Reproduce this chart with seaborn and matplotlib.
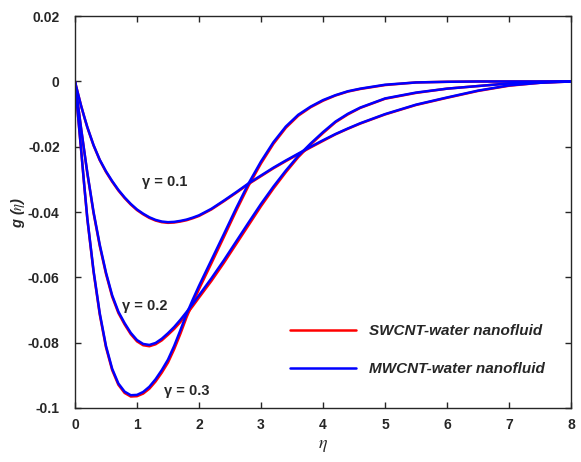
import numpy as np
import pandas as pd
import matplotlib
matplotlib.use("Agg")
import matplotlib.pyplot as plt
import seaborn as sns

# eta grid
eta = [0, 0.05, 0.1, 0.15, 0.2,
       0.3, 0.4, 0.5, 0.6, 0.7, 0.8, 0.9, 1.0, 1.1, 1.2, 1.3, 1.4, 1.5, 1.6, 1.7,
       1.8, 1.9, 2.0,
       2.2, 2.4, 2.6, 2.8, 3.0, 3.2, 3.4, 3.6, 3.8, 4.0, 4.2, 4.4, 4.6,
       5.0, 5.5, 6.0, 6.5, 7.0, 7.5, 8.0]

# MWCNT-water (blue)
g_mw_01 = [0, -0.0038, -0.0075, -0.0108, -0.0140,
           -0.0195, -0.0240, -0.0275, -0.0305, -0.0332, -0.0355, -0.0375, -0.0392,
           -0.0405, -0.0416, -0.0424, -0.0429, -0.0431, -0.0430, -0.0427, -0.0423,
           -0.0417, -0.0410,
           -0.0390, -0.0365, -0.0339, -0.0312, -0.0288, -0.0264, -0.0242, -0.0221,
           -0.0200, -0.0180, -0.0161, -0.0144, -0.0128,
           -0.0100, -0.0071, -0.0049, -0.0028, -0.0012, -0.0004, 0]
g_mw_02 = [0, -0.0073, -0.0145, -0.0213, -0.0280,
           -0.0400, -0.0500, -0.0585, -0.0655, -0.0705, -0.0740, -0.0770, -0.0792,
           -0.0804, -0.0807, -0.0801, -0.0788, -0.0771, -0.0752, -0.0730, -0.0706,
           -0.0681, -0.0655,
           -0.0603, -0.0548, -0.0490, -0.0432, -0.0375, -0.0322, -0.0273, -0.0228,
           -0.0190, -0.0155, -0.0123, -0.0099, -0.0080,
           -0.0052, -0.0034, -0.0022, -0.0014, -0.0006, -0.0002, 0]
g_mw_03 = [0, -0.0105, -0.0210, -0.0318, -0.0420,
           -0.0580, -0.0710, -0.0810, -0.0880, -0.0925, -0.0950, -0.0961, -0.0960,
           -0.0951, -0.0935, -0.0912, -0.0884, -0.0852, -0.0810, -0.0762, -0.0712,
           -0.0668, -0.0626,
           -0.0547, -0.0468, -0.0388, -0.0312, -0.0245, -0.0186, -0.0138, -0.0102,
           -0.0077, -0.0057, -0.0042, -0.0030, -0.0022,
           -0.0010, -0.0003, -0.0001, 0, 0, 0, 0]

# SWCNT-water (red), almost on top of the blue curves
g_sw_01 = [0, -0.0038, -0.0075, -0.0109, -0.0141,
           -0.0196, -0.0241, -0.0277, -0.0307, -0.0334, -0.0357, -0.0377, -0.0394,
           -0.0407, -0.0418, -0.0426, -0.0431, -0.0433, -0.0432, -0.0429, -0.0425,
           -0.0419, -0.0412,
           -0.0392, -0.0367, -0.0341, -0.0314, -0.0290, -0.0266, -0.0244, -0.0223,
           -0.0202, -0.0182, -0.0162, -0.0145, -0.0129,
           -0.0101, -0.0072, -0.0050, -0.0029, -0.0013, -0.0004, 0]
g_sw_02 = [0, -0.0073, -0.0146, -0.0214, -0.0282,
           -0.0403, -0.0504, -0.0589, -0.0659, -0.0709, -0.0744, -0.0774, -0.0796,
           -0.0808, -0.0811, -0.0805, -0.0793, -0.0776, -0.0758, -0.0737, -0.0713,
           -0.0688, -0.0662,
           -0.0611, -0.0556, -0.0498, -0.0440, -0.0382, -0.0328, -0.0278, -0.0232,
           -0.0193, -0.0158, -0.0125, -0.0101, -0.0081,
           -0.0053, -0.0035, -0.0022, -0.0014, -0.0006, -0.0002, 0]
g_sw_03 = [0, -0.0106, -0.0211, -0.0319, -0.0422,
           -0.0583, -0.0714, -0.0814, -0.0884, -0.0929, -0.0954, -0.0965, -0.0964,
           -0.0956, -0.0941, -0.0919, -0.0892, -0.0861, -0.0820, -0.0773, -0.0722,
           -0.0678, -0.0636,
           -0.0557, -0.0477, -0.0396, -0.0319, -0.0251, -0.0191, -0.0142, -0.0105,
           -0.0079, -0.0059, -0.0043, -0.0031, -0.0023,
           -0.0011, -0.0003, -0.0001, 0, 0, 0, 0]

gamma_labels = ["\u03b3 = 0.1", "\u03b3 = 0.2", "\u03b3 = 0.3"]
label_pos = [(1.45, -0.0309), (1.13, -0.0688), (1.81, -0.0948)]

sns.set_style("ticks")
plt.rcParams["font.family"] = ["Liberation Sans", "DejaVu Sans"]
plt.rcParams["mathtext.fontset"] = "stix"

fig = plt.figure(figsize=(5.81, 4.62), dpi=100)
ax = fig.add_axes([0.129, 0.117, 0.854, 0.848])

rows = []
for name, sets in [("SWCNT-water nanofluid", [g_sw_01, g_sw_02, g_sw_03]),
                   ("MWCNT-water nanofluid", [g_mw_01, g_mw_02, g_mw_03])]:
    for k, vals in enumerate(sets):
        for x, y in zip(eta, vals):
            rows.append({"eta": x, "g": y, "fluid": name, "case": k})
df = pd.DataFrame(rows)

sns.lineplot(data=df, x="eta", y="g", hue="fluid", units="case", estimator=None,
             palette={"SWCNT-water nanofluid": "#ff0000", "MWCNT-water nanofluid": "#0000ff"},
             linewidth=1.8, ax=ax, sort=False)

for txt, (x, y) in zip(gamma_labels, label_pos):
    ax.text(x, y, txt, ha="center", va="center", fontsize=10.5, fontweight="bold")

ax.set_xlim(0, 8)
ax.set_ylim(-0.1, 0.02)
ax.set_xticks(range(0, 9))
ax.set_yticks([0.02, 0, -0.02, -0.04, -0.06, -0.08, -0.1])
ax.set_yticklabels(["0.02", "0", "-0.02", "-0.04", "-0.06", "-0.08", "-0.1"])
ax.tick_params(direction="in", top=True, right=True, length=4, width=1,
               labelsize=10, colors="#262626")
ax.tick_params(axis="y", pad=11)
ax.tick_params(axis="x", pad=7)
for lab in ax.get_xticklabels() + ax.get_yticklabels():
    lab.set_fontweight("bold")
for sp in ax.spines.values():
    sp.set_visible(True)
    sp.set_linewidth(1.0)
    sp.set_color("#262626")

ax.set_xlabel("$\\eta$", fontsize=13, labelpad=4)
ax.set_ylabel("g ($\\eta$)", fontsize=10.5, fontweight="bold", fontstyle="italic", labelpad=1)

leg = ax.legend(loc="center left", bbox_to_anchor=(0.42, 0.148), frameon=False,
                handlelength=4.7, labelspacing=1.7, handletextpad=1.0, borderpad=0)
for t in leg.get_texts():
    t.set_fontweight("bold")
    t.set_fontstyle("italic")
    t.set_fontsize(11)

fig.savefig("out.png", dpi=100)
